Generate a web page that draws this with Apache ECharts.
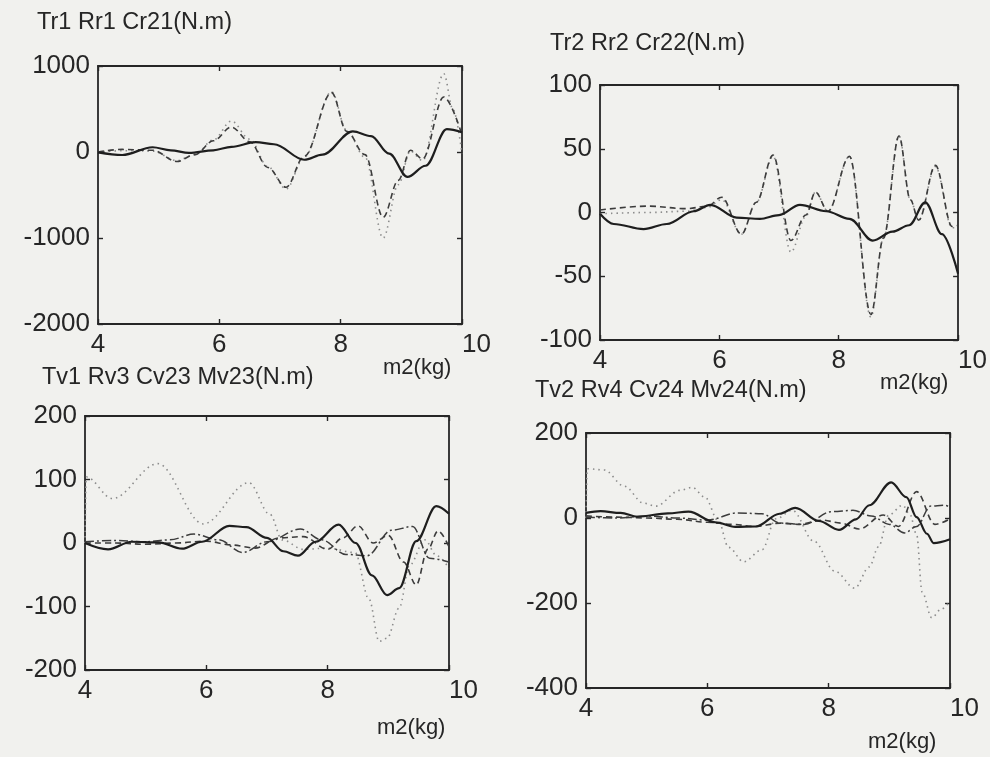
<!DOCTYPE html>
<html>
<head>
<meta charset="utf-8">
<script src="https://cdn.jsdelivr.net/npm/echarts@6/dist/echarts.min.js"></script>
<style>
  html, body { margin: 0; padding: 0; background: #f1f1ee; }
  #chart { width: 990px; height: 757px; }
</style>
</head>
<body>
<div id="chart"></div>
<script>
// ---------- data ----------
const panelTitles = ['Tr1 Rr1 Cr21(N.m)', 'Tr2 Rr2 Cr22(N.m)', 'Tv1 Rv3 Cv23 Mv23(N.m)', 'Tv2 Rv4 Cv24 Mv24(N.m)'];
const xAxisTitle = 'm2(kg)';
const xRange = [4, 10, 2];
const yRanges = [[-2000, 1000, 1000], [-100, 100, 50], [-200, 200, 100], [-400, 200, 200]];

// Panel 1
const p1SolidX = [4.0, 4.4, 4.9, 5.2, 5.5, 5.9, 6.2, 6.6, 6.9, 7.4, 7.7, 8.2, 8.5, 8.8, 9.1, 9.4, 9.75, 10.0];
const p1SolidY = [-5, -35, 55, 20, -10, 20, 60, 115, 90, -90, -30, 240, 185, -20, -290, -160, 265, 230];
const p1DashX = [4.0, 4.4, 4.9, 5.3, 5.6, 5.9, 6.2, 6.5, 6.8, 7.1, 7.4, 7.85, 8.1, 8.4, 8.7, 8.95, 9.15, 9.35, 9.7, 10.0];
const p1DashY = [0, 30, 20, -110, -30, 130, 290, 120, -180, -410, -50, 690, 240, -30, -760, -330, 20, -80, 640, 200];
const p1DotX = [4.0, 4.4, 4.9, 5.3, 5.6, 5.9, 6.2, 6.5, 6.8, 7.1, 7.4, 7.85, 8.1, 8.4, 8.7, 8.95, 9.15, 9.35, 9.7, 9.85, 10.0];
const p1DotY = [0, 15, 10, -100, -30, 140, 360, 150, -170, -430, -60, 700, 250, -60, -1000, -380, 10, -100, 910, 500, -20];

// Panel 2
const p2SolidX = [4.0, 4.23, 4.73, 5.12, 5.57, 5.85, 6.29, 6.68, 7.0, 7.35, 7.79, 8.18, 8.57, 8.9, 9.18, 9.45, 9.73, 10.0];
const p2SolidY = [-1, -9, -13, -9, 1, 6, -4, -5, -2, 6, 1, -5, -22, -15, -10, 8, -17, -48];
const p2DashX = [4.0, 4.8, 5.45, 5.8, 6.04, 6.37, 6.62, 6.9, 7.2, 7.45, 7.61, 7.82, 8.18, 8.54, 8.75, 9.01, 9.2, 9.34, 9.62, 9.9, 10.0];
const p2DashY = [2, 5, 3, 5, 12, -17, 8, 45, -22, -2, 16, 1, 44, -80, -20, 60, 10, -6, 37, -11, -10];
const p2DotX = [4.0, 4.8, 5.45, 5.8, 6.04, 6.37, 6.62, 6.9, 7.2, 7.45, 7.61, 7.82, 8.18, 8.54, 8.75, 9.01, 9.2, 9.34, 9.62, 9.9, 10.0];
const p2DotY = [-1, 0, 1, 4, 10, -17, 8, 44, -31, -3, 16, 1, 44, -82, -20, 60, 10, -6, 36, -12, -12];

// Panel 3
const p3SolidX = [4.0, 4.38, 4.77, 5.21, 5.6, 5.93, 6.38, 6.66, 7.0, 7.27, 7.51, 7.8, 8.18, 8.46, 8.73, 8.98, 9.18, 9.46, 9.79, 10.0];
const p3SolidY = [0, -10, 2, 1, -9, 2, 27, 25, 8, -13, -20, 2, 29, 0, -51, -82, -71, 3, 58, 46];
const p3DashDotX = [4.0, 4.5, 5.0, 5.4, 5.8, 6.2, 6.6, 7.0, 7.55, 7.9, 8.3, 8.65, 9.05, 9.4, 9.68, 10.0];
const p3DashDotY = [2, 4, 2, 5, 14, 5, -15, 2, 22, 5, -18, -20, 20, 26, -24, -30];
const p3DashX = [4.0, 4.5, 5.0, 5.5, 6.0, 6.4, 6.8, 7.2, 7.6, 8.0, 8.25, 8.5, 8.75, 9.0, 9.25, 9.46, 9.65, 9.82, 10.0];
const p3DashY = [0, 0, -2, 0, 3, -3, -8, 8, 10, -10, 8, 27, 0, 12, -30, -66, -10, 19, -6];
const p3DotX = [4.0, 4.02, 4.45, 5.2, 5.95, 6.7, 7.05, 7.25, 7.6, 8.0, 8.45, 8.68, 8.85, 8.98, 9.18, 9.35, 9.6, 9.8, 10.0];
const p3DotY = [0, 104, 70, 125, 30, 95, 45, 5, -10, -8, -15, -88, -155, -150, -102, -35, 5, -20, -40];

// Panel 4
const p4SolidX = [4.0, 4.24, 4.57, 4.85, 5.35, 5.69, 6.13, 6.46, 6.8, 7.19, 7.45, 7.84, 8.17, 8.45, 8.67, 9.03, 9.28, 9.45, 9.62, 9.73, 10.0];
const p4SolidY = [12, 16, 12, 3, 11, 15, -10, -21, -20, 10, 24, -7, -28, -3, 30, 84, 49, 2, -37, -59, -50];
const p4DashDotX = [4.0, 4.5, 5.0, 5.5, 6.0, 6.5, 6.9, 7.2, 7.6, 8.05, 8.4, 8.7, 9.0, 9.25, 9.45, 9.68, 9.9, 10.0];
const p4DashDotY = [2, 0, 5, 0, -5, 12, 10, -12, -15, 15, 18, 5, -15, -35, -20, 28, 30, 26];
const p4DashX = [4.0, 4.5, 5.0, 5.5, 6.0, 6.4, 6.8, 7.2, 7.5, 7.9, 8.2, 8.5, 8.9, 9.15, 9.45, 9.75, 10.0];
const p4DashY = [5, 2, 0, -3, -10, -15, -20, -12, -15, -5, -12, -26, 7, -20, 62, -15, -2];
const p4DotX = [4.0, 4.02, 4.3, 4.63, 4.95, 5.15, 5.55, 5.75, 5.96, 6.18, 6.35, 6.6, 6.9, 7.13, 7.4, 7.76, 8.1, 8.43, 8.67, 8.82, 8.99, 9.22, 9.34, 9.45, 9.54, 9.7, 9.85, 10.0];
const p4DotY = [0, 116, 113, 75, 35, 28, 65, 72, 49, -6, -69, -103, -75, -2, 18, -55, -125, -165, -115, -68, 7, 30, 8, -39, -174, -235, -215, -195];

// ---------- layout & styles ----------
const FONT = '"Liberation Sans", Arial, sans-serif';
const INK = '#262626';
const grids = [
  { left: 98, top: 66, width: 364, height: 258 },
  { left: 600, top: 85, width: 362, height: 255 },
  { left: 85, top: 416, width: 364, height: 254 },
  { left: 586, top: 433, width: 364, height: 255 }
];
const titlePos = [[37, 11], [550, 32], [42, 366], [535, 379]];
const xNamePos = [[383, 357], [880, 372], [377, 717], [868, 731]];

const styles = {
  solid:   { color: '#1e1e1e', width: 2.2, type: 'solid' },
  dash:    { color: '#3c3c3c', width: 1.6, type: [6, 4] },
  dashdot: { color: '#3c3c3c', width: 1.5, type: [9, 3, 2, 3] },
  dot:     { color: '#8c8c8c', width: 1.6, type: [1.5, 4] }
};

const panels = [
  [['dot', p1DotX, p1DotY], ['dash', p1DashX, p1DashY], ['solid', p1SolidX, p1SolidY]],
  [['dot', p2DotX, p2DotY], ['dash', p2DashX, p2DashY], ['solid', p2SolidX, p2SolidY]],
  [['dot', p3DotX, p3DotY], ['dashdot', p3DashDotX, p3DashDotY], ['dash', p3DashX, p3DashY], ['solid', p3SolidX, p3SolidY]],
  [['dot', p4DotX, p4DotY], ['dashdot', p4DashDotX, p4DashDotY], ['dash', p4DashX, p4DashY], ['solid', p4SolidX, p4SolidY]]
];

const axisLine = { show: true, onZero: false, lineStyle: { color: INK, width: 1.8 } };
const tick = { show: true, inside: true, length: 5, lineStyle: { color: INK, width: 1.4 } };
const labelStyle = { color: INK, fontFamily: FONT, fontSize: 26, formatter: v => String(v) };

const xAxes = [], yAxes = [], series = [], titles = [];
grids.forEach((g, i) => {
  xAxes.push({
    gridIndex: i, type: 'value', position: 'bottom',
    min: xRange[0], max: xRange[1], interval: xRange[2],
    axisLine, axisTick: tick, splitLine: { show: false },
    axisLabel: Object.assign({ margin: 8, alignMaxLabel: 'left' }, labelStyle)
  });
  xAxes.push({
    gridIndex: i, type: 'value', position: 'top',
    min: xRange[0], max: xRange[1], interval: xRange[2],
    axisLine, axisTick: tick, splitLine: { show: false }, axisLabel: { show: false }
  });
  const yr = yRanges[i];
  yAxes.push({
    gridIndex: i, type: 'value', position: 'left',
    min: yr[0], max: yr[1], interval: yr[2],
    axisLine, axisTick: tick, splitLine: { show: false },
    axisLabel: Object.assign({ margin: 8 }, labelStyle)
  });
  yAxes.push({
    gridIndex: i, type: 'value', position: 'right',
    min: yr[0], max: yr[1], interval: yr[2],
    axisLine, axisTick: tick, splitLine: { show: false }, axisLabel: { show: false }
  });
  titles.push({
    text: panelTitles[i], left: titlePos[i][0], top: titlePos[i][1], padding: 0,
    textStyle: { color: INK, fontFamily: FONT, fontSize: 23.5, fontWeight: 'normal' }
  });
  titles.push({
    text: xAxisTitle, left: xNamePos[i][0], top: xNamePos[i][1], padding: 0,
    textStyle: { color: INK, fontFamily: FONT, fontSize: 22, fontWeight: 'normal' }
  });
  panels[i].forEach(([kind, xs, ys]) => {
    const st = styles[kind];
    series.push({
      type: 'line',
      xAxisIndex: 2 * i, yAxisIndex: 2 * i,
      data: xs.map((x, k) => [x, ys[k]]),
      showSymbol: false, smooth: 0.35, smoothMonotone: 'x',
      lineStyle: { color: st.color, width: st.width, type: st.type },
      z: kind === 'solid' ? 5 : 3,
      animation: false
    });
  });
});

const chart = echarts.init(document.getElementById('chart'), null, { renderer: 'canvas' });
chart.setOption({
  backgroundColor: '#f1f1ee',
  animation: false,
  title: titles,
  grid: grids,
  xAxis: xAxes,
  yAxis: yAxes,
  series: series
});
</script>
</body>
</html>
